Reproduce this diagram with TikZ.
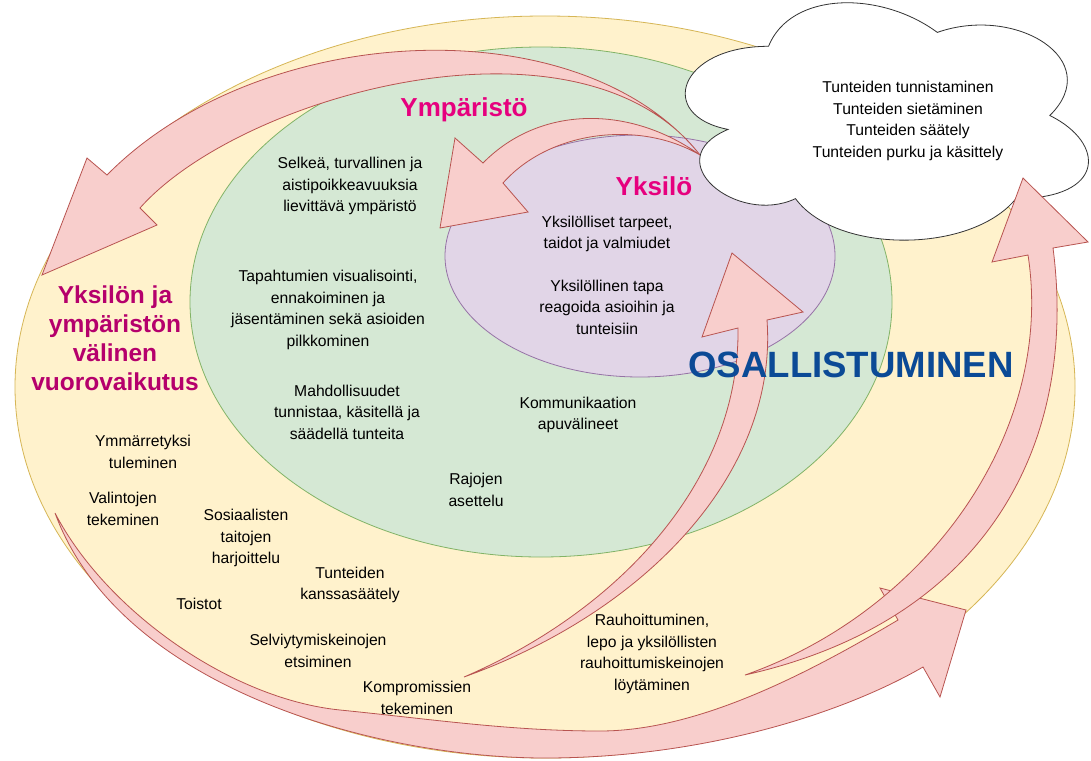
\documentclass[tikz,border=0pt]{standalone}
\usepackage{fontspec}
\setmainfont{Liberation Sans}
\usepackage{tikz}
\usetikzlibrary{positioning}

\definecolor{ringyellow}{HTML}{FFF2CC}
\definecolor{lineyellow}{HTML}{D6B656}
\definecolor{ringgreen}{HTML}{D5E8D4}
\definecolor{linegreen}{HTML}{82B366}
\definecolor{ringpurple}{HTML}{E1D5E7}
\definecolor{linepurple}{HTML}{9673A6}
\definecolor{arrowpink}{HTML}{F8CECC}
\definecolor{arrowred}{HTML}{B85450}
\definecolor{titlepink}{HTML}{E6007E}
\definecolor{titlewine}{HTML}{B5006C}
\definecolor{titleblue}{HTML}{0B4A96}

\tikzset{
	ring/.style 2 args={fill=#1, draw=#2, line width=0.8pt},
	bigarrow/.style={fill=arrowpink, draw=arrowred, line width=0.8pt, line join=miter},
	note/.style={align=center, inner sep=0pt, font=\fontsize{15.7}{21.5}\selectfont},
	heading/.style={align=center, inner sep=0pt, font=\bfseries\fontsize{26}{30}\selectfont, text=titlepink}
}

\begin{document}
\begin{tikzpicture}[x=1pt,y=-1pt]

	\clip (0,0) rectangle (1091,760);
	\fill[white] (0,0) rectangle (1091,760);

	\draw[ring={ringyellow}{lineyellow}] (545,387) ellipse [x radius=530pt, y radius=371pt];
	\draw[ring={ringgreen}{linegreen}] (541,302) ellipse [x radius=351pt, y radius=255pt];
	\draw[ring={ringpurple}{linepurple}] (640,256) ellipse [x radius=195pt, y radius=121pt];

	\draw[bigarrow] (55,513) .. controls (106,611) and (231,699) .. (340,710)
		.. controls (430,719) and (510,731) .. (600,731)
		.. controls (700,731) and (812,671) .. (898,620)
		-- (880,588) -- (966,610) -- (940,697) -- (923,667)
		.. controls (840,715) and (700,758) .. (545,758)
		.. controls (380,758) and (120,690) .. (55,513) -- cycle;

	\draw[bigarrow] (700,155) .. controls (580,5) and (260,20) .. (107,175)
		-- (87,158) -- (42,275) -- (157,225) -- (140,208)
		.. controls (240,95) and (580,0) .. (700,155) -- cycle;

	\draw[bigarrow] (700,155) .. controls (630,105) and (540,105) .. (483,163)
		-- (455,138) -- (440,228) -- (528,212) -- (503,183)
		.. controls (550,130) and (640,120) .. (700,155) -- cycle;

	\draw[fill=white, draw=black!80, line width=0.8pt] (768.5,46.3)
		.. controls (678.5,46.3) and (656,115.5) .. (728,129.4)
		.. controls (656,159.8) and (737,226.3) .. (795.5,198.6)
		.. controls (836,254) and (971,254) .. (1016,198.6)
		.. controls (1106,198.6) and (1106,143.2) .. (1049.8,115.5)
		.. controls (1106,60.1) and (1016,4.7) .. (937.3,32.4)
		.. controls (881,-9.2) and (791,-9.2) .. (768.5,46.3) -- cycle;

	\draw[bigarrow] (464,677) .. controls (620,610) and (740,480) .. (738,328)
		-- (702,337) -- (732,253) -- (803,312) -- (767,320)
		.. controls (778,470) and (650,610) .. (464,677) -- cycle;

	\draw[bigarrow] (745,675) .. controls (930,610) and (1055,430) .. (1028,255)
		-- (992,262) -- (1023,178) -- (1088,242) -- (1053,248)
		.. controls (1078,440) and (990,620) .. (745,675) -- cycle;

	\node[heading] (ymparisto) at (464,110) {Ympäristö};
	\node[heading] (yksilo) at (654,186) {Yksilö};
	\node[heading, text=titlewine, font=\bfseries\fontsize{24.5}{29}\selectfont] (vuorovaikutus) at (115,338) {Yksilön ja\\ympäristön\\välinen\\vuorovaikutus};
	\node[heading, text=titleblue, font=\bfseries\fontsize{36.6}{40}\selectfont] (osallistuminen) at (851,365) {OSALLISTUMINEN};

	\node[note] (tunteet) at (908,121) {Tunteiden tunnistaminen\\Tunteiden sietäminen\\Tunteiden säätely\\Tunteiden purku ja käsittely};

	\node[note] (selkea) at (350,186) {Selkeä, turvallinen ja\\aistipoikkeavuuksia\\lievittävä ympäristö};
	\node[note] (tapahtumat) at (328,310) {Tapahtumien visualisointi,\\ennakoiminen ja\\jäsentäminen sekä asioiden\\pilkkominen};
	\node[note] (mahdollisuudet) at (347,412) {Mahdollisuudet\\tunnistaa, käsitellä ja\\säädellä tunteita};
	\node[note] (kommunikaatio) at (578,415) {Kommunikaation\\apuvälineet};
	\node[note] (rajat) at (476,490) {Rajojen\\asettelu};

	\node[note] (tarpeet) at (607,234) {Yksilölliset tarpeet,\\taidot ja valmiudet};
	\node[note] (tapa) at (607,307) {Yksilöllinen tapa\\reagoida asioihin ja\\tunteisiin};

	\node[note] (ymmarrys) at (143,452) {Ymmärretyksi\\tuleminen};
	\node[note] (valinnat) at (123,509) {Valintojen\\tekeminen};
	\node[note] (sosiaaliset) at (246,538) {Sosiaalisten\\taitojen\\harjoittelu};
	\node[note] (toistot) at (199,604) {Toistot};
	\node[note] (kanssasaately) at (350,585) {Tunteiden\\kanssasäätely};
	\node[note] (selviytyminen) at (318,651) {Selviytymiskeinojen\\etsiminen};
	\node[note] (kompromissit) at (417,698) {Kompromissien\\tekeminen};
	\node[note] (rauhoittuminen) at (652,654) {Rauhoittuminen,\\lepo ja yksilöllisten\\rauhoittumiskeinojen\\löytäminen};

\end{tikzpicture}
\end{document}
